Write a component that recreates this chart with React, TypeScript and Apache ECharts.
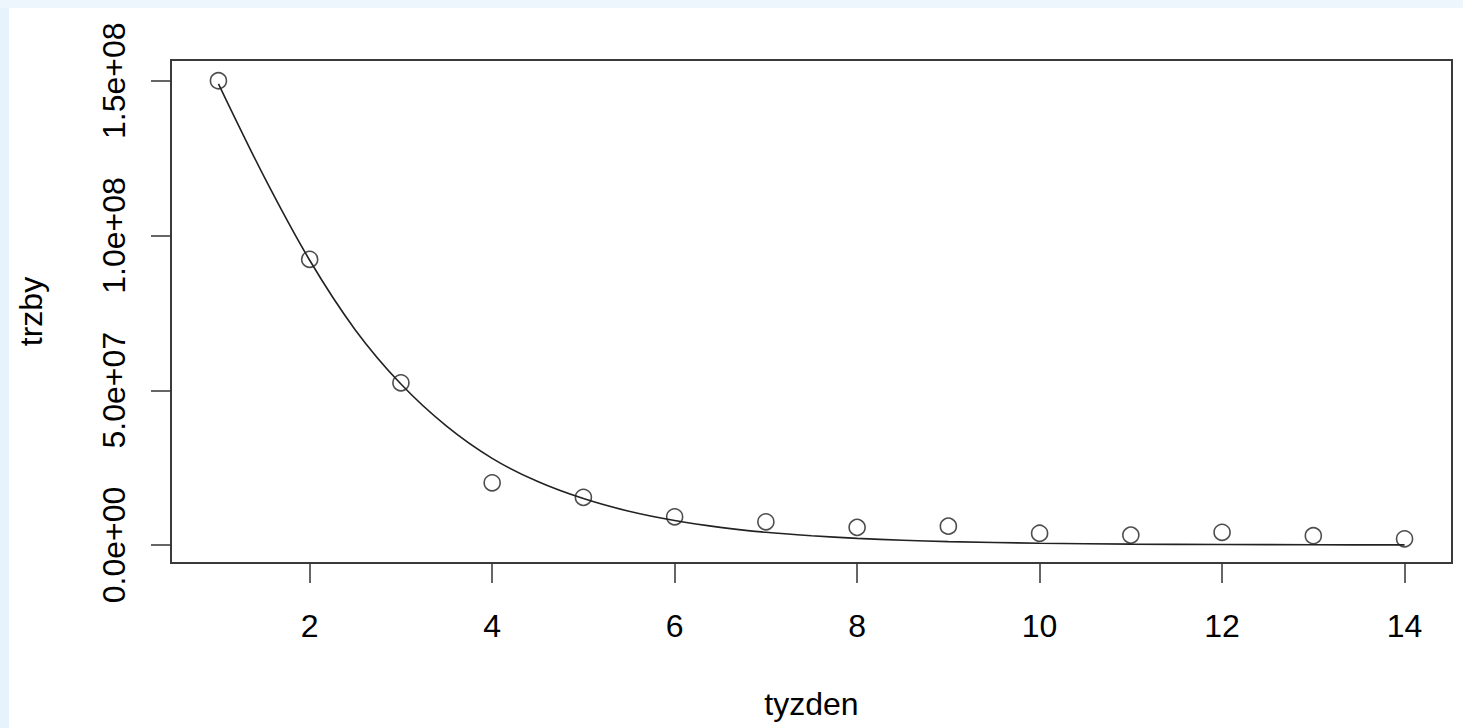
import React, { useEffect, useRef } from "react";
import * as echarts from "echarts";

// observed data: week (tyzden) vs sales (trzby)
const weeks = [1, 2, 3, 4, 5, 6, 7, 8, 9, 10, 11, 12, 13, 14];
const sales = [1.5e8, 9.23e7, 5.24e7, 2.01e7, 1.54e7, 9.1e6, 7.5e6, 5.7e6, 6.1e6, 3.8e6, 3.2e6, 4.1e6, 3.0e6, 2.0e6];

// fitted curve
const fitX = [1, 1.5, 2, 2.5, 3, 3.5, 4, 4.5, 5, 5.5, 6, 6.5, 7, 7.5, 8, 8.5, 9, 10, 11, 12, 13, 14];
const fitY = [1.49e8, 1.19e8, 9.2e7, 6.95e7, 5.2e7, 3.84e7, 2.8e7, 2.05e7, 1.5e7, 1.09e7, 7.9e6, 5.7e6, 4.1e6, 3.0e6, 2.15e6, 1.55e6, 1.1e6, 5.8e5, 3e5, 1.6e5, 8e4, 4e4];

const xTickValues = [2, 4, 6, 8, 10, 12, 14];
const yTickValues = [0, 5e7, 1e8, 1.5e8];
const yTickLabels = ["0.0e+00", "5.0e+07", "1.0e+08", "1.5e+08"];

const xTitle = "tyzden";
const yTitle = "trzby";

const FONT = "'Liberation Sans', Arial, Helvetica, sans-serif";

export default function App() {
  const ref = useRef<HTMLDivElement>(null);

  useEffect(() => {
    if (!ref.current) return;
    const chart = echarts.init(ref.current, undefined, { renderer: "svg" });
    const tickLine = { color: "#333", width: 1.5 };
    chart.setOption({
      animation: false,
      backgroundColor: "#ffffff",
      grid: {
        left: 162,
        top: 52,
        width: 1281,
        height: 503,
        show: true,
        borderColor: "#3a3a3a",
        borderWidth: 2,
        backgroundColor: "transparent",
      },
      xAxis: {
        type: "value",
        min: 0.48,
        max: 14.52,
        axisLine: { show: false, onZero: false },
        splitLine: { show: false },
        axisTick: {
          show: true,
          inside: false,
          length: 20,
          customValues: xTickValues,
          lineStyle: tickLine,
        },
        axisLabel: {
          customValues: xTickValues,
          margin: 47,
          fontSize: 32,
          color: "#000",
          fontFamily: FONT,
        },
      },
      yAxis: {
        type: "value",
        min: -5.81e6,
        max: 1.567e8,
        axisLine: { show: false, onZero: false },
        splitLine: { show: false },
        axisTick: {
          show: true,
          inside: false,
          length: 20,
          customValues: yTickValues,
          lineStyle: tickLine,
        },
        axisLabel: {
          customValues: yTickValues,
          rotate: 90,
          margin: 41,
          fontSize: 32,
          color: "#000",
          fontFamily: FONT,
          formatter: (v: number) => {
            const i = yTickValues.indexOf(v);
            return i >= 0 ? yTickLabels[i] : "";
          },
        },
      },
      graphic: [
        {
          type: "text",
          x: 802.5,
          y: 696,
          style: {
            text: xTitle,
            fontSize: 32,
            fontFamily: FONT,
            fill: "#000",
            align: "center",
            verticalAlign: "middle",
          },
        },
        {
          type: "text",
          x: 21.7,
          y: 303.5,
          rotation: Math.PI / 2,
          style: {
            text: yTitle,
            fontSize: 32,
            fontFamily: FONT,
            fill: "#000",
            align: "center",
            verticalAlign: "middle",
          },
        },
      ],
      series: [
        {
          type: "scatter",
          data: weeks.map((w, i) => [w, sales[i]]),
          symbol: "circle",
          symbolSize: 16,
          itemStyle: { color: "rgba(0,0,0,0)", borderColor: "#222", borderWidth: 1.6 },
          silent: true,
        },
        {
          type: "line",
          data: fitX.map((x, i) => [x, fitY[i]]),
          smooth: 0.3,
          showSymbol: false,
          lineStyle: { color: "#222", width: 1.6 },
          silent: true,
        },
      ],
    });
    return () => chart.dispose();
  }, []);

  return (
    <div
      style={{
        position: "fixed",
        left: 0,
        top: 0,
        width: 1463,
        height: 728,
        background: "#eef6fd",
        overflow: "hidden",
      }}
    >
      <div style={{ position: "absolute", left: 0, top: 8, width: 9, height: 720, background: "#e6f2fc" }} />
      <div ref={ref} style={{ position: "absolute", left: 9, top: 8, width: 1454, height: 720 }} />
    </div>
  );
}
